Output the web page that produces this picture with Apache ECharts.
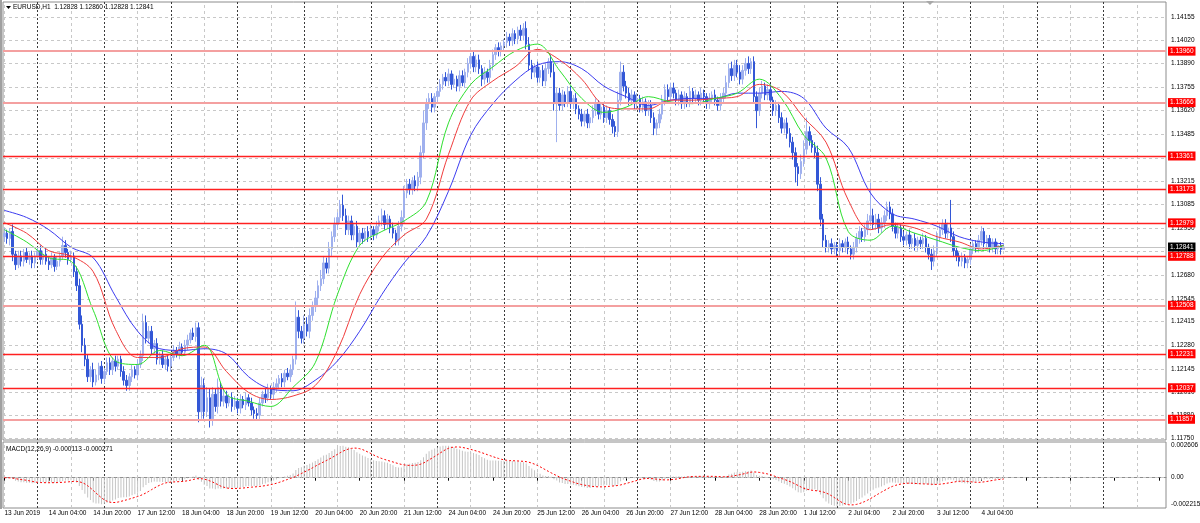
<!DOCTYPE html>
<html><head><meta charset="utf-8">
<script src="https://cdn.jsdelivr.net/npm/echarts@6/dist/echarts.min.js"></script>
<style>html,body{margin:0;padding:0;background:#fff;}#c{width:1200px;height:523px;}</style>
</head><body><div id="c"></div>
<script>
const symbolTitle = 'EURUSD,H1  1.12828 1.12860 1.12828 1.12841';
const macdTitle = 'MACD(12,26,9) -0.000113 -0.000271';
const tickLabels = ['13 Jun 2019','14 Jun 04:00','14 Jun 20:00','17 Jun 12:00','18 Jun 04:00','18 Jun 20:00','19 Jun 12:00','20 Jun 04:00','20 Jun 20:00','21 Jun 12:00','24 Jun 04:00','24 Jun 20:00','25 Jun 12:00','26 Jun 04:00','26 Jun 20:00','27 Jun 12:00','28 Jun 04:00','28 Jun 20:00','1 Jul 12:00','2 Jul 04:00','2 Jul 20:00','3 Jul 12:00','4 Jul 04:00'];
const barsPerLabel = 16;
const totalSlots = 419;
const firstOpen = 1.1290;
const closes = [
1.1292,1.1289,1.1293,1.1280,1.1274,1.1279,1.1276,1.1281,1.1277,1.1279,
1.1275,1.1279,1.1282,1.1277,1.1280,1.1276,1.1274,1.1278,1.1273,1.1276,
1.1279,1.1285,1.1281,1.1277,1.1279,1.1270,1.1262,1.1240,1.1228,1.1220,
1.1210,1.1214,1.1207,1.1211,1.1216,1.1209,1.1213,1.1218,1.1214,1.1219,
1.1216,1.1220,1.1213,1.1208,1.1205,1.1210,1.1214,1.1211,1.1217,1.1222,
1.1241,1.1232,1.1236,1.1226,1.1229,1.1220,1.1222,1.1217,1.1220,1.1216,
1.1221,1.1225,1.1223,1.1227,1.1224,1.1228,1.1231,1.1235,1.1233,1.1238,
1.1190,1.1205,1.1190,1.1198,1.1186,1.1200,1.1193,1.1204,1.1196,1.1199,
1.1195,1.1198,1.1193,1.1196,1.1192,1.1197,1.1194,1.1198,1.1195,1.1191,
1.1189,1.1188,1.1195,1.1200,1.1198,1.1203,1.1200,1.1204,1.1206,1.1209,
1.1207,1.1212,1.1210,1.1214,1.1220,1.1244,1.1236,1.1232,1.1240,1.1236,
1.1245,1.1250,1.1255,1.1262,1.1266,1.1275,1.1272,1.1283,1.1290,1.1297,
1.1301,1.1308,1.1302,1.1294,1.1299,1.1291,1.1296,1.1287,1.1292,1.1289,
1.1293,1.1290,1.1294,1.1291,1.1296,1.1299,1.1302,1.1297,1.1300,1.1295,
1.1292,1.1288,1.1296,1.1301,1.1315,1.1320,1.1317,1.1322,1.1319,1.1324,
1.1338,1.1355,1.1366,1.1369,1.1364,1.1370,1.1373,1.1377,1.1381,1.1379,
1.1383,1.1377,1.1380,1.1376,1.1382,1.1378,1.1384,1.1389,1.1393,1.1387,
1.1391,1.1386,1.1380,1.1384,1.1381,1.1388,1.1394,1.1398,1.1396,1.1399,
1.1401,1.1404,1.1402,1.1406,1.1403,1.1408,1.1405,1.1409,1.1400,1.1388,
1.1384,1.1387,1.1381,1.1385,1.1379,1.1386,1.1390,1.1384,1.1366,1.1372,
1.1365,1.1371,1.1367,1.1373,1.1366,1.1369,1.1363,1.1360,1.1356,1.1360,
1.1355,1.1358,1.1362,1.1366,1.1360,1.1364,1.1358,1.1362,1.1357,1.1353,
1.1350,1.1368,1.1384,1.1376,1.1372,1.1368,1.1371,1.1366,1.1369,1.1364,
1.1367,1.1362,1.1365,1.1358,1.1352,1.1355,1.1360,1.1368,1.1374,1.1370,
1.1375,1.1372,1.1368,1.1371,1.1366,1.1370,1.1367,1.1373,1.1369,1.1371,
1.1368,1.1372,1.1370,1.1366,1.1369,1.1371,1.1368,1.1365,1.1369,1.1372,
1.1378,1.1386,1.1382,1.1388,1.1384,1.1380,1.1385,1.1389,1.1386,1.1390,
1.1370,1.1362,1.1372,1.1376,1.1371,1.1374,1.1368,1.1362,1.1365,1.1358,
1.1352,1.1355,1.1349,1.1344,1.1338,1.1330,1.1326,1.1333,1.1340,1.1350,
1.1345,1.1341,1.1338,1.1320,1.1300,1.1288,1.1284,1.1286,1.1283,1.1285,
1.1282,1.1286,1.1284,1.1287,1.1283,1.1280,1.1284,1.1289,1.1293,1.1290,
1.1294,1.1299,1.1302,1.1297,1.1300,1.1295,1.1298,1.1302,1.1307,1.1303,
1.1296,1.1292,1.1295,1.1290,1.1288,1.1291,1.1286,1.1289,1.1285,1.1288,
1.1286,1.1289,1.1284,1.1280,1.1276,1.1282,1.1290,1.1294,1.1297,1.1292,
1.1295,1.1290,1.1282,1.1279,1.1276,1.1278,1.1275,1.1277,1.1283,1.1286,
1.1284,1.1288,1.1293,1.1286,1.1289,1.1284,1.1287,1.1283,1.1285,1.12828,
1.12841];
// upper / lower shadow lengths in pips
const wickUp = [
3,2,2,4,2,3,3,2,3,2, 3,2,2,3,2,3,2,3,2,3, 2,5,3,2,3,2,3,4,5,4, 3,2,4,3,2,3,2,3,3,2,
3,2,2,3,3,2,3,2,3,3, 5,4,3,3,2,3,2,3,2,3, 2,3,2,3,2,3,3,2,3,3, 3,5,4,6,5,4,3,5,3,4,
3,2,3,3,2,3,2,3,2,3, 2,3,3,2,3,3,2,3,3,2, 3,2,3,3,2,9,4,3,5,4, 4,3,4,3,5,4,3,4,3,4,
3,3,6,4,3,3,2,3,2,3, 2,3,3,2,3,3,4,3,3,2, 3,2,3,4,4,3,3,2,3,3, 4,7,3,3,3,2,3,3,2,3,
3,2,3,2,3,3,2,3,2,3, 3,3,2,3,2,3,3,2,3,2, 2,3,2,3,2,2,3,3,4,4, 3,2,3,2,3,3,2,4,5,3,
3,3,2,3,3,2,3,2,3,2, 3,2,3,3,2,3,2,3,2,3, 3,5,6,4,3,3,3,2,3,2, 3,2,3,3,3,2,3,3,3,3,
3,3,2,3,2,3,2,3,2,3, 2,3,2,2,3,2,3,2,3,3, 4,3,4,3,3,4,3,3,4,2, 3,3,3,3,2,3,3,2,3,2,
3,2,3,3,3,3,2,4,5,8, 3,3,3,4,4,3,3,2,3,2, 2,3,2,2,3,2,3,3,3,2, 3,4,19,4,3,3,3,3,3,3,
3,2,3,2,3,2,3,2,3,2, 2,3,2,2,3,3,3,3,3,3, 3,16,3,2,2,3,2,2,3,2, 2,3,3,2,2,2,2,2,2,2,
1.9];
const wickDown = [
3,3,4,4,3,2,3,3,2,3, 3,3,2,3,3,2,3,2,3,2, 3,2,3,3,2,3,3,3,4,4, 3,3,3,2,3,3,3,2,3,3,
3,2,3,3,3,3,3,2,3,2, 3,3,3,3,3,3,3,2,3,3, 3,2,2,3,2,2,3,2,2,3, 6,4,4,3,5,4,3,4,3,3,
3,2,3,2,3,3,2,3,2,3, 3,3,3,2,3,2,3,3,3,3, 3,3,2,3,3,3,4,3,3,3, 4,3,3,4,3,3,3,3,4,3,
3,3,3,3,3,3,3,3,2,3, 2,3,2,3,2,3,3,3,2,3, 3,3,3,3,3,3,3,3,3,3, 4,3,4,3,3,3,3,3,3,3,
3,3,2,3,3,2,3,3,3,3, 3,3,4,3,3,3,3,3,3,3, 3,3,3,3,3,3,3,3,3,3, 4,3,3,3,3,3,3,3,4,22,
3,3,3,3,3,3,3,3,3,3, 3,3,3,3,3,3,3,3,3,4, 3,3,3,3,3,3,3,3,3,3, 3,3,3,3,4,4,3,3,3,3,
3,3,3,3,3,3,3,3,3,3, 3,3,3,3,3,3,3,3,3,3, 3,3,3,3,3,3,3,3,3,3, 4,10,3,3,3,3,3,3,3,3,
3,3,3,3,4,9,7,3,3,3, 3,3,3,4,4,4,3,3,3,3, 3,3,3,3,3,3,3,3,3,3, 3,3,3,3,3,3,3,3,3,3,
3,3,3,3,3,3,3,3,3,3, 3,3,3,3,5,3,3,3,3,3, 3,3,3,3,3,3,3,3,3,3, 3,3,3,3,3,3,3,3,3,3,
0];
// moving averages read every 8 bars
const maStep = 8;
const maGreen = [1.1294,1.1287,1.1278,1.1276,1.1248,1.1219,1.1217,1.1225,1.1222,1.1228,1.1200,1.1196,1.1193,1.1204,1.1218,1.1257,1.1285,1.1293,1.1299,1.1310,1.1355,1.1377,1.1387,1.1396,1.1400,1.1385,1.1369,1.1361,1.1364,1.1370,1.1367,1.1366,1.1369,1.1372,1.1380,1.1369,1.1348,1.1335,1.1293,1.1288,1.1296,1.1292,1.1288,1.1284,1.1282,1.1285];
const maRed = [1.1298,1.1292,1.1282,1.1279,1.1270,1.1237,1.1221,1.1221,1.1226,1.1227,1.1213,1.1201,1.1197,1.1199,1.1205,1.1225,1.1257,1.1278,1.1291,1.1300,1.1337,1.1368,1.1379,1.1387,1.1397,1.1391,1.1380,1.1365,1.1363,1.1363,1.1368,1.1368,1.1369,1.1370,1.1377,1.1373,1.1358,1.1344,1.1311,1.1294,1.1297,1.1295,1.1290,1.1287,1.1283,1.1285];
const maBlue = [1.1305,1.1301,1.1294,1.1284,1.1278,1.1256,1.1236,1.1226,1.1225,1.1226,1.1223,1.1210,1.1203,1.1202,1.1208,1.1219,1.1236,1.1257,1.1275,1.1290,1.1316,1.1348,1.1366,1.1379,1.1388,1.1390,1.1386,1.1376,1.1370,1.1365,1.1368,1.1369,1.1369,1.1372,1.1372,1.1373,1.1369,1.1352,1.1341,1.1315,1.1303,1.1300,1.1296,1.1290,1.1287,1.1286];
const priceTicks = [1.14155,1.14020,1.13890,1.13755,1.13620,1.13485,1.13350,1.13215,1.13085,1.12950,1.12815,1.12680,1.12545,1.12415,1.12280,1.12145,1.12010,1.11880,1.11750];
const hardLevels = [1.13361,1.13173,1.12979,1.12788,1.12231,1.12037];
const softLevels = [1.13960,1.13666,1.12508,1.11857];
const bidPrice = 1.12841;
const macdMax = 0.002606, macdMin = -0.002215;

const FONT = "'Liberation Sans',Arial,sans-serif";
const FS = 6.5;
const cats = Array.from({length: totalSlots}, (_, i) => String(i));
const candles = closes.map((c, i) => {
  const o = i === 0 ? firstOpen : closes[i - 1];
  return [o, c, Math.min(o, c) - wickDown[i] * 1e-4, Math.max(o, c) + wickUp[i] * 1e-4];
});
const maData = arr => arr.map((v, k) => [k * maStep, v]);
function ema(src, n) { const k = 2 / (n + 1); let e = src[0]; return src.map((v, i) => (e = i ? v * k + e * (1 - k) : v)); }
const e12 = ema(closes, 12), e26 = ema(closes, 26);
const macd = closes.map((_, i) => e12[i] - e26[i]);
const signal = macd.map((_, i) => { const w = macd.slice(Math.max(0, i - 8), i + 1); return w.reduce((a, b) => a + b, 0) / w.length; });

const vLines = [];
for (let i = 0; i < totalSlots; i += 12) {
  const day = i % 24 === 12;
  vLines.push({xAxis: i, lineStyle: {color: day ? '#3a3a3a' : '#c8c8c8', type: day ? [2, 2] : [3, 3], width: 1}});
}
const baseML = {silent: true, symbol: 'none', animation: false, precision: 6, emphasis: {disabled: true}};
const levelLabel = (bg) => ({show: true, position: 'end', distance: 2, color: '#fff', backgroundColor: bg, padding: [1, 2, 1, 2], fontSize: FS, fontFamily: FONT});
const levelSeries = (v, style, bg, z) => ({
  type: 'line', xAxisIndex: 0, yAxisIndex: 0, data: [], z: z, color: style.color,
  markLine: Object.assign({}, baseML, {z: z, lineStyle: style, label: levelLabel(bg),
    data: [{yAxis: v, lineStyle: style, label: {formatter: v.toFixed(5)}}]})
});
const hidden = {color: 'rgba(0,0,0,0)', width: 0};

const chart = echarts.init(document.getElementById('c'), null, {renderer: 'canvas'});
chart.setOption({
  animation: false,
  backgroundColor: '#ffffff',
  grid: [
    {left: 3, top: 2, width: 1163, height: 438, show: true, borderColor: '#8c8c8c', borderWidth: 1, backgroundColor: '#fff'},
    {left: 3, top: 442, width: 1163, height: 66, show: true, borderColor: '#8c8c8c', borderWidth: 1, backgroundColor: '#fff'}
  ],
  xAxis: [
    {type: 'category', gridIndex: 0, data: cats, boundaryGap: true, show: false},
    {type: 'category', gridIndex: 1, data: cats, boundaryGap: true,
     axisLine: {show: true, lineStyle: {color: '#8c8c8c'}},
     axisTick: {show: true, interval: barsPerLabel - 1, alignWithLabel: true, length: 3, lineStyle: {color: '#000'}},
     axisLabel: {interval: barsPerLabel - 1, align: 'left', margin: 2, fontSize: FS, fontFamily: FONT, color: '#000',
       formatter: (v, idx) => tickLabels[idx / barsPerLabel] || ''},
     splitLine: {show: false}}
  ],
  yAxis: [
    {type: 'value', gridIndex: 0, min: 1.117386, max: 1.142407, position: 'right', show: false, splitLine: {show: false}},
    {type: 'value', gridIndex: 1, min: macdMin, max: macdMax, position: 'right', show: false, splitLine: {show: false}}
  ],
  graphic: [
    {type: 'rect', shape: {x: 0, y: 0, width: 2, height: 509}, style: {fill: '#a0a0a0'}},
    {type: 'polygon', shape: {points: [[6, 6], [11, 6], [8.5, 9]]}, style: {fill: '#000'}},
    {type: 'text', left: 13, top: 4, style: {text: symbolTitle, font: FS + 'px ' + FONT, fill: '#000'}},
    {type: 'text', left: 6, top: 446, style: {text: macdTitle, font: FS + 'px ' + FONT, fill: '#000'}},
    {type: 'polygon', shape: {points: [[926, 1], [934, 1], [930, 5]]}, style: {fill: '#a8a8a8'}}
  ],
  series: [
    {type: 'line', xAxisIndex: 0, yAxisIndex: 0, data: [], markLine: Object.assign({}, baseML, {z: 1, label: {show: false}, data: vLines})},
    {type: 'line', xAxisIndex: 0, yAxisIndex: 0, data: [], markLine: Object.assign({}, baseML, {z: 1,
      lineStyle: {color: '#c8c8c8', type: [3, 3], width: 1},
      label: {show: true, position: 'end', distance: 5, color: '#000', fontSize: FS, fontFamily: FONT},
      data: priceTicks.map(v => ({yAxis: v, label: {formatter: v.toFixed(5)}}))})},
    {type: 'candlestick', xAxisIndex: 0, yAxisIndex: 0, data: candles, barWidth: 2, z: 3,
     itemStyle: {color: '#9fb0ee', color0: '#3357d6', borderColor: '#9fb0ee', borderColor0: '#3357d6', borderWidth: 1}},
    {type: 'line', xAxisIndex: 0, yAxisIndex: 0, data: maData(maBlue), showSymbol: false, smooth: 0.35, z: 4, lineStyle: {color: '#3c3cf0', width: 1}},
    {type: 'line', xAxisIndex: 0, yAxisIndex: 0, data: maData(maRed), showSymbol: false, smooth: 0.35, z: 4, lineStyle: {color: '#f03c3c', width: 1}},
    {type: 'line', xAxisIndex: 0, yAxisIndex: 0, data: maData(maGreen), showSymbol: false, smooth: 0.35, z: 4, lineStyle: {color: '#2ee02e', width: 1}},
    levelSeries(bidPrice, {color: '#c4c4c4', width: 1, type: 'solid'}, '#000000', 6),
    ...softLevels.map(v => levelSeries(v, {color: '#f4a0a0', width: 2, type: 'solid'}, '#ff0000', 7)),
    ...hardLevels.map(v => levelSeries(v, {color: '#ff2020', width: 1.3, type: 'solid'}, '#ff0000', 10)),
    {type: 'line', xAxisIndex: 1, yAxisIndex: 1, data: [], markLine: Object.assign({}, baseML, {z: 1, label: {show: false},
      data: vLines.concat([{yAxis: 0, lineStyle: {color: '#c8c8c8', type: [3, 3], width: 1}}])})},
    {type: 'line', xAxisIndex: 1, yAxisIndex: 1, data: [], markLine: Object.assign({}, baseML, {z: 5, lineStyle: hidden,
      label: {show: true, position: 'end', distance: 5, color: '#000', fontSize: FS, fontFamily: FONT},
      data: [
        {yAxis: macdMax, label: {formatter: macdMax.toFixed(6), verticalAlign: 'top'}},
        {yAxis: 0, label: {formatter: '0.00'}},
        {yAxis: macdMin, label: {formatter: macdMin.toFixed(6), verticalAlign: 'bottom'}}
      ]})},
    {type: 'bar', xAxisIndex: 1, yAxisIndex: 1, data: macd, barWidth: 1, itemStyle: {color: '#c4c4c4'}, z: 2},
    {type: 'line', xAxisIndex: 1, yAxisIndex: 1, data: signal, showSymbol: false, z: 3, lineStyle: {color: '#ff0000', width: 1, type: [2, 2]}}
  ]
});
</script>
</body></html>
